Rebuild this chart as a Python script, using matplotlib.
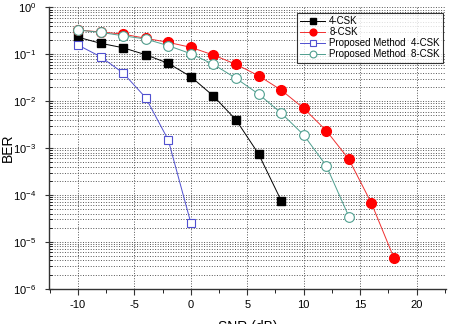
import matplotlib
matplotlib.use('Agg')
import matplotlib.pyplot as plt
from matplotlib.ticker import LogLocator, MultipleLocator

# SNR points (dB)
snr_4csk = [-10, -8, -6, -4, -2, 0, 2, 4, 6, 8]
snr_8csk = [-10, -8, -6, -4, -2, 0, 2, 4, 6, 8, 10, 12, 14, 16, 18]
snr_prop_4csk = [-10, -8, -6, -4, -2, 0]
snr_prop_8csk = [-10, -8, -6, -4, -2, 0, 2, 4, 6, 8, 10, 12, 14]

# BER values
ber_4csk = [0.232, 0.172, 0.138, 0.098, 0.0643, 0.0333, 0.0129, 0.0040, 7.5e-4, 7.6e-5]
ber_8csk = [0.33, 0.30, 0.27, 0.22, 0.18, 0.141, 0.0966, 0.0612, 0.035, 0.0173,
            0.00706, 0.00235, 5.77e-4, 6.65e-5, 4.47e-6]
ber_prop_4csk = [0.158, 0.089, 0.040, 0.0119, 1.49e-3, 2.53e-5]
ber_prop_8csk = [0.33, 0.294, 0.249, 0.212, 0.153, 0.103, 0.061, 0.0308, 0.0142,
                 0.0056, 0.0019, 4.2e-4, 3.45e-5]

labels = ['4-CSK', '8-CSK', 'Proposed Method  4-CSK', 'Proposed Method  8-CSK']

plt.rcParams['font.family'] = ['Liberation Sans', 'DejaVu Sans']
plt.rcParams['axes.unicode_minus'] = False  # plain hyphen like the reference

fig = plt.figure(figsize=(4.5, 3.24), dpi=100)
ax = fig.add_axes([0.108, 0.109, 0.883, 0.868])

ax.plot(snr_4csk, ber_4csk, color='black', lw=0.7, marker='s', ms=6,
        mfc='black', mec='black', label=labels[0])
ax.plot(snr_8csk, ber_8csk, color='#f03030', lw=0.7, marker='o', ms=7,
        mfc='red', mec='red', label=labels[1])
ax.plot(snr_prop_4csk, ber_prop_4csk, color='#5050d0', lw=0.7, marker='s', ms=6,
        mfc='white', mec='#5050d0', mew=0.8, label=labels[2])
ax.plot(snr_prop_8csk, ber_prop_8csk, color='#4f9f8f', lw=0.7, marker='o', ms=7,
        mfc='white', mec='#4f9f8f', mew=0.8, label=labels[3])

ax.set_yscale('log')
ax.set_ylim(1e-6, 1)
ax.set_xlim(-12.6, 22.6)
ax.xaxis.set_major_locator(MultipleLocator(5))
ax.xaxis.set_minor_locator(MultipleLocator(2.5))
ax.yaxis.set_major_locator(LogLocator(base=10, numticks=10))
ax.yaxis.set_minor_locator(LogLocator(base=10, subs=range(2, 10), numticks=10))

ax.grid(True, which='major', axis='x', ls=':', color='#555555', lw=0.7)
ax.grid(True, which='both', axis='y', ls=':', color='#555555', lw=0.7)

for s in ['top', 'right']:
    ax.spines[s].set_visible(False)
for s in ['left', 'bottom']:
    ax.spines[s].set_linewidth(1.0)
    ax.spines[s].set_color('#333333')

ax.tick_params(axis='both', which='major', labelsize=8, length=4, color='#333333')
ax.tick_params(axis='y', which='major', direction='inout', length=6, pad=6)
ax.tick_params(axis='y', which='minor', direction='in', length=2.5)
ax.tick_params(axis='x', which='minor', direction='out', length=3)
ax.tick_params(axis='x', which='major', pad=4)

ax.set_xlabel('SNR (dB)', fontsize=10, labelpad=7)
ax.set_ylabel('BER', fontsize=10)
ax.yaxis.set_label_coords(-0.086, 0.5)

leg = ax.legend(loc='upper right', bbox_to_anchor=(0.993, 0.98), borderaxespad=0,
                fontsize=7, frameon=True, fancybox=False, edgecolor='black',
                handlelength=2.6, borderpad=0.35, labelspacing=0.1,
                handletextpad=0.4, markerscale=0.7)
leg.get_frame().set_linewidth(0.8)

plt.savefig('out.png', dpi=100)
plt.close()
